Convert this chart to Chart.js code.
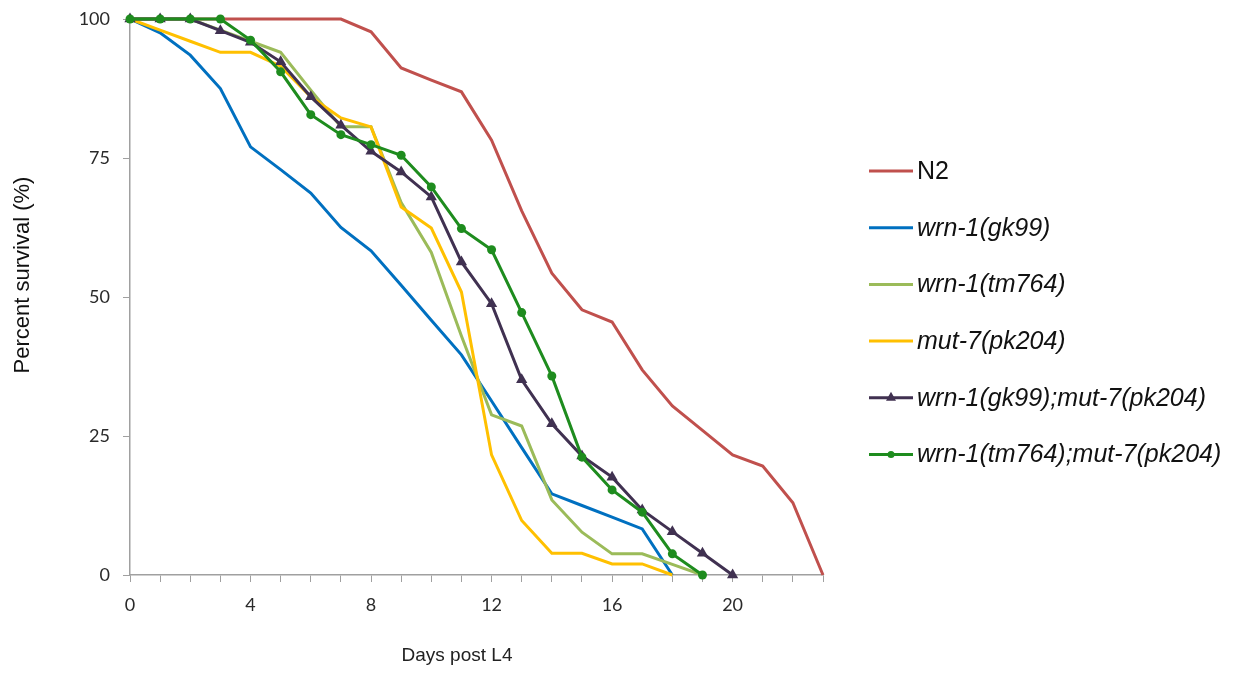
<!DOCTYPE html>
<html>
<head>
<meta charset="utf-8">
<title>Survival</title>
<script src="https://cdn.jsdelivr.net/npm/chart.js@4"></script>
<style>
  body { margin: 0; background: #fff; }
  #wrap { width: 1240px; height: 673px; position: relative; }
</style>
</head>
<body>
<div id="wrap"><canvas id="myChart"></canvas></div>
<script>
// days post L4
const days = [0,1,2,3,4,5,6,7,8,9,10,11,12,13,14,15,16,17,18,19,20,21,22,23];

const names = ['N2', 'wrn-1(gk99)', 'wrn-1(tm764)', 'mut-7(pk204)', 'wrn-1(gk99);mut-7(pk204)', 'wrn-1(tm764);mut-7(pk204)'];

const n2 = [100,100,100,100,100,100,100,100,97.7,91.2,89,86.9,78.2,65.5,54.3,47.7,45.5,36.9,30.4,26,21.6,19.6,13,0];
const gk99 = [100,97.5,93.5,87.5,77,72.9,68.7,62.5,58.3,52.1,45.8,39.6,31.3,22.9,14.6,12.5,10.4,8.3,0];
const tm764 = [100,100,100,98,96,94,87.2,80.6,80.6,67,58,43,28.8,26.8,13.5,7.7,3.8,3.8,1.9,0];
const mut7 = [100,98,96,94,94,91.5,86,82.2,80.6,66.2,62.4,50.9,21.6,9.8,3.9,3.9,2,2,0];
const gk99Mut7 = [100,100,100,97.9,95.8,92.3,86,80.9,76.2,72.5,68,56.3,48.8,35.1,27.2,21.4,17.6,11.7,7.8,3.9,0];
const tm764Mut7 = [100,100,100,100,96.2,90.5,82.8,79.2,77.4,75.5,69.8,62.3,58.5,47.2,35.8,21.2,15.3,11.3,3.8,0];

const yTicks = [0, 25, 50, 75, 100];

const xTitle = 'Days post L4';
const yTitle = 'Percent survival (%)';

const series = [n2, gk99, tm764, mut7, gk99Mut7, tm764Mut7];
const colors = ['#C0504D', '#0070C0', '#9BBB59', '#FFC000', '#403151', '#1E8C1E'];
const markers = [null, null, null, null, 'triangle', 'circle'];
const markerSize = { triangle: 6.5, circle: 4.5 };

const axisGray = '#A0A0A0';

// axis titles + legend on the right, drawn by hand (N2 upright, the rest italic)
const extras = {
    id: 'extras',
    afterDraw(chart) {
        const ctx = chart.ctx;
        ctx.save();
        ctx.fillStyle = '#222';
        ctx.textAlign = 'center';
        ctx.textBaseline = 'middle';
        ctx.font = '19px "Liberation Sans", Arial, sans-serif';
        ctx.fillText(xTitle, 457, 656);
        ctx.translate(23, 275);
        ctx.rotate(-Math.PI / 2);
        ctx.fillStyle = '#111';
        ctx.font = '22px "Liberation Sans", Arial, sans-serif';
        ctx.fillText(yTitle, 0, 0);
        ctx.restore();

        const x0 = 869, x1 = 913, tx = 917;
        chart.data.datasets.forEach((ds, i) => {
            const y = 171 + i * 56.7;
            ctx.save();
            ctx.strokeStyle = ds.borderColor;
            ctx.lineWidth = 3;
            ctx.beginPath();
            ctx.moveTo(x0, y);
            ctx.lineTo(x1, y);
            ctx.stroke();
            ctx.fillStyle = ds.borderColor;
            if (markers[i] === 'triangle') {
                ctx.beginPath();
                ctx.moveTo(891, y - 6);
                ctx.lineTo(896, y + 3);
                ctx.lineTo(886, y + 3);
                ctx.closePath();
                ctx.fill();
            } else if (markers[i] === 'circle') {
                ctx.beginPath();
                ctx.arc(891, y, 3.5, 0, Math.PI * 2);
                ctx.fill();
            }
            ctx.fillStyle = '#111';
            ctx.font = (i === 0 ? '' : 'italic ') + '25px "Liberation Sans", Arial, sans-serif';
            ctx.textBaseline = 'middle';
            ctx.fillText(ds.label, tx, y + 1);
            ctx.restore();
        });
    }
};

const datasets = series.map((vals, i) => ({
    label: names[i],
    data: vals,
    borderColor: colors[i],
    backgroundColor: colors[i],
    borderWidth: 3,
    tension: 0,
    fill: false,
    clip: false,
    order: series.length - 1 - i,
    pointStyle: markers[i] || 'circle',
    pointRadius: markers[i] ? markerSize[markers[i]] : 0,
    pointHoverRadius: markers[i] ? markerSize[markers[i]] : 0,
    pointBorderWidth: 0
}));

const ctx = document.getElementById('myChart').getContext('2d');
new Chart(ctx, {
    type: 'line',
    data: { labels: days, datasets: datasets },
    options: {
        responsive: true,
        maintainAspectRatio: false,
        animation: false,
        layout: { padding: { top: 19, right: 417, bottom: 0, left: 0 } },
        plugins: { legend: { display: false }, tooltip: { enabled: false } },
        scales: {
            x: {
                type: 'category',
                offset: false,
                grid: { drawOnChartArea: false, drawTicks: true, tickLength: 7, color: axisGray },
                border: { color: axisGray, width: 1.5 },
                ticks: {
                    autoSkip: false,
                    maxRotation: 0,
                    padding: 12,
                    color: '#2a2a2a',
                    font: { family: 'Lato', size: 18 },
                    callback: function(v, i) { return days[i] % 4 === 0 ? String(days[i]) : ''; }
                },
                afterFit: function(scale) { scale.height = 98; }
            },
            y: {
                min: 0,
                max: 100,
                afterBuildTicks: function(scale) { scale.ticks = yTicks.map(v => ({ value: v })); },
                grid: { drawOnChartArea: false, drawTicks: true, tickLength: 7, color: axisGray },
                border: { color: axisGray, width: 1.5 },
                ticks: {
                    padding: 13,
                    color: '#2a2a2a',
                    font: { family: 'Lato', size: 18 }
                },
                afterFit: function(scale) {
                    scale.width = 130;
                    scale.paddingTop = 0;
                    scale.paddingBottom = 0;
                }
            }
        }
    },
    plugins: [extras]
});
</script>
</body>
</html>
